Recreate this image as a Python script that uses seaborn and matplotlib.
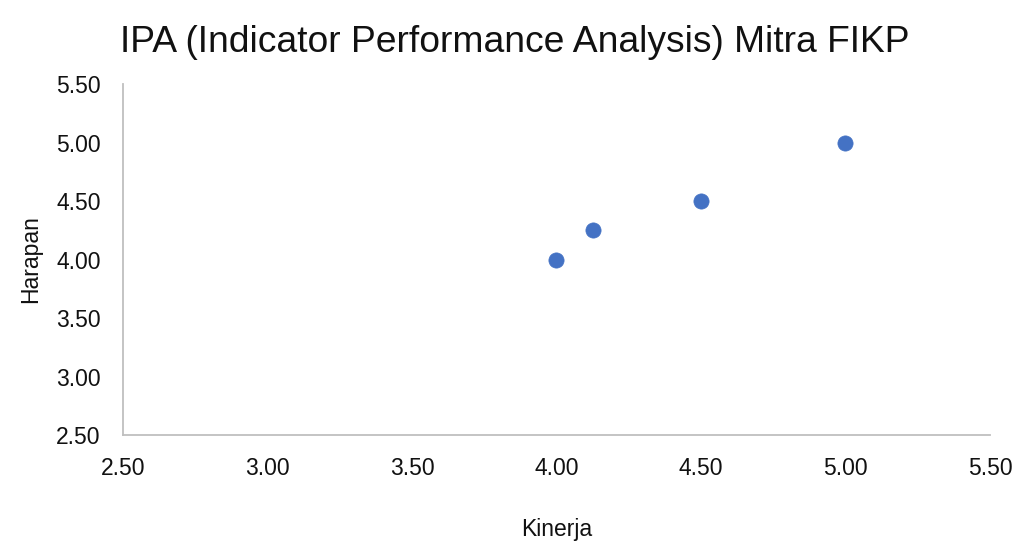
import matplotlib
matplotlib.use("Agg")
import matplotlib.pyplot as plt
import seaborn as sns
import pandas as pd

kinerja = [4.0, 4.125, 4.5, 5.0]
harapan = [4.0, 4.25, 4.5, 5.0]
ticks = [2.5, 3.0, 3.5, 4.0, 4.5, 5.0, 5.5]

sns.set_theme(style="white")
plt.rcParams['font.family'] = ['Liberation Sans', 'DejaVu Sans']

df = pd.DataFrame({"Kinerja": kinerja, "Harapan": harapan})

fig = plt.figure(figsize=(10.19, 5.42), dpi=100)
ax = fig.add_axes([0.1207, 0.1974, 0.8508, 0.6476])
sns.scatterplot(data=df, x="Kinerja", y="Harapan", ax=ax, s=120,
                color="#4472C4", edgecolor="#4472C4", linewidth=0.5, zorder=3)

ax.set_xlim(2.5, 5.5)
ax.set_ylim(2.5, 5.5)
ax.set_xticks(ticks)
ax.set_yticks(ticks)
fs = 16.5
ax.set_xticklabels([f"{t:.2f}" for t in ticks], fontsize=fs, color="#111111")
ax.set_yticklabels([f"{t:.2f}" for t in ticks], fontsize=fs, color="#111111")
ax.tick_params(axis='x', length=0, pad=16)
ax.tick_params(axis='y', length=0, pad=16)
for side in ["top", "right"]:
    ax.spines[side].set_visible(False)
for side in ["left", "bottom"]:
    ax.spines[side].set_color("#BFBFBF")
    ax.spines[side].set_linewidth(1.3)

ax.set_xlabel("Kinerja", fontsize=fs, color="#111111", labelpad=27)
ax.set_ylabel("Harapan", fontsize=fs, color="#111111", labelpad=10)
fig.text(0.505, 0.922, "IPA (Indicator Performance Analysis) Mitra FIKP",
         ha="center", va="center", fontsize=26.8, color="#111111")

fig.savefig("out.png", dpi=100)
